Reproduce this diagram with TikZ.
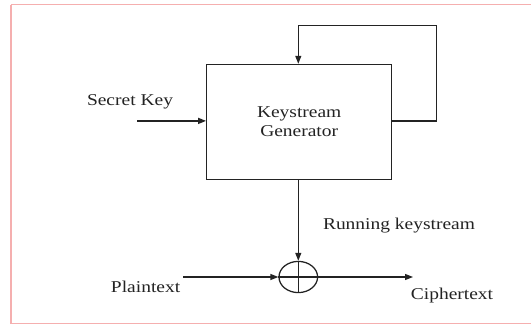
\documentclass[tikz,border=0pt]{standalone}
\usepackage{fontspec}
\setmainfont{Liberation Serif}
\usetikzlibrary{arrows.meta,shapes.geometric}
\definecolor{frame}{RGB}{245,175,175}
\definecolor{ink}{RGB}{35,35,35}
\tikzset{
  wire/.style={draw=ink, line width=1.25pt},
  arr/.style={wire, -{Triangle[length=8pt,width=6pt]}},
  lbl/.style={text=ink, font=\fontsize{16.5}{18}\selectfont, inner sep=0pt},
}
\newcommand{\hstretch}[1]{\scalebox{1.18}[1]{#1}}
\begin{document}
\begin{tikzpicture}[x=1pt,y=-1pt]
\useasboundingbox (0,0) rectangle (531,324);
\fill[white] (0,0) rectangle (531,324);
\draw[frame, line width=1.6pt] (11,4.5) -- (540,4.5);
\draw[frame, line width=1.6pt] (11,4.5) -- (11,330);
\draw[frame, line width=1.2pt] (11,323.5) -- (540,323.5);

\node[wire, rectangle, minimum width=185pt, minimum height=115pt, inner sep=0pt] (gen) at (299.2,121.9) {};
\node[lbl, align=center] (gentext) at (299.2,122) {\hstretch{Keystream}\\[1pt]\hstretch{Generator}};

\coordinate (fbout) at (436.2,120.9);
\coordinate (fbtop) at (436.2,25.4);
\coordinate (fbleft) at (298.3,25.4);
\draw[wire] (gen.east |- fbout) -- (fbout) -- (fbtop) -- (fbleft);
\draw[arr] (fbleft) -- (fbleft |- gen.north);

\coordinate (skstart) at (137,120.9);
\draw[arr] (skstart) -- (gen.west |- skstart);
\node[lbl] (sk) at (130,102) {\hstretch{Secret Key}};

\node[wire, ellipse, minimum width=38.6pt, minimum height=31.2pt, inner sep=0pt] (xor) at (298.3,277) {};
\draw[wire] (xor.north) -- (xor.south);
\draw[wire] (xor.west) -- (xor.east);
\draw[arr] (gen.south -| xor.north) -- (xor.north);

\coordinate (ptstart) at (183,277);
\draw[arr] (ptstart) -- (xor.west);
\node[lbl] (pt) at (145.6,287) {\hstretch{Plaintext}};

\coordinate (ctend) at (413,277);
\draw[arr] (xor.east) -- (ctend);
\node[lbl] (ct) at (452,296) {\hstretch{Ciphertext}};

\node[lbl] (rk) at (399,226) {\hstretch{Running keystream}};
\end{tikzpicture}
\end{document}
